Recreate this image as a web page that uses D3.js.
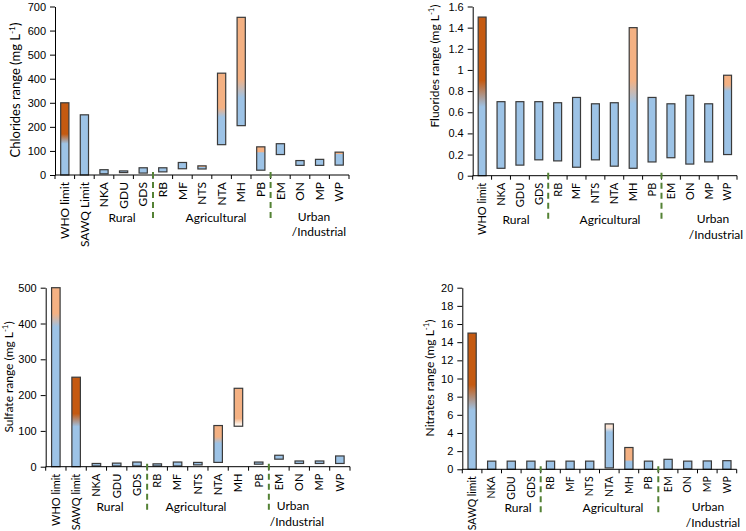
<!DOCTYPE html>
<html>
<head>
<meta charset="utf-8">
<script src="https://cdn.jsdelivr.net/npm/d3@7"></script>
<style>
body { margin: 0; background: #fff; }
svg { display: block; font-family: Lato, "Noto Sans", sans-serif; }
</style>
</head>
<body>
<svg id="chart" width="746" height="531"></svg>
<script>
// sampling sites
var sites = ["NKA", "GDU", "GDS", "RB", "MF", "NTS", "NTA", "MH", "PB", "EM", "ON", "MP", "WP"];
var groupNames = ["Rural", "Agricultural", "Urban", "/Industrial"];

// chlorides (mg/L)
var chlorideCats = ["WHO limit", "SAWQ Limit"].concat(sites);
var chlorideLow  = [0, 0, 5, 10, 8, 13, 26, 25, 126, 205, 20, 85, 40, 40, 41];
var chlorideHigh = [300, 250, 22, 17, 30, 30, 52, 38, 423, 655, 117, 130, 60, 65, 95];
// colour change [from, to, top colour]
var chlorideBlend = [[130, 170, "d"], null, null, null, null, null, null, [32, 34, "l"],
  [240, 280, "l"], [320, 400, "l"], [92, 97, "l"], null, null, null, [85, 88, "l"]];
var chlorideTicks = [0, 100, 200, 300, 400, 500, 600, 700];

// fluorides
var fluorideCats = ["WHO limit"].concat(sites);
var fluorideLow  = [0, 0.07, 0.10, 0.15, 0.14, 0.08, 0.15, 0.09, 0.07, 0.13, 0.17, 0.11, 0.13, 0.20];
var fluorideHigh = [1.5, 0.70, 0.70, 0.70, 0.69, 0.74, 0.68, 0.69, 1.40, 0.74, 0.68, 0.76, 0.68, 0.95];
var fluorideBlend = [[0.65, 0.9, "d"], null, null, null, null, null, null, null,
  [0.68, 0.9, "l"], null, null, null, null, [0.8, 0.86, "l"]];
var fluorideTicks = [0, 0.2, 0.4, 0.6, 0.8, 1, 1.2, 1.4, 1.6];

// sulfate
var sulfateCats = ["WHO limit", "SAWQ limit"].concat(sites);
var sulfateLow  = [0, 0, 2, 2, 2, 2, 2, 5, 12, 113, 7, 21, 9, 9, 9];
var sulfateHigh = [500, 250, 9, 10, 13, 8, 13, 12, 115, 219, 13, 32, 16, 16, 30];
var sulfateBlend = [[390, 428, "l"], [112, 148, "d"], null, null, null, null, null, null,
  [65, 84, "l"], [118, 135, "l", "w"], null, null, null, null, null];
var sulfateTicks = [0, 100, 200, 300, 400, 500];

// nitrates
var nitrateCats = ["SAWQ limit"].concat(sites);
var nitrateLow  = [0, 0, 0, 0, 0, 0, 0, 0.15, 0, 0, 0, 0.05, 0, 0];
var nitrateHigh = [15, 0.9, 0.9, 0.9, 0.9, 0.9, 0.9, 5.0, 2.4, 0.9, 1.1, 0.9, 0.92, 0.95];
var nitrateBlend = [[6.5, 9.3, "d"], null, null, null, null, null, null,
  [4.1, 4.6, "p"], [0.85, 1.05, "l"], null, null, null, null, null];
var nitrateTicks = [0, 2, 4, 6, 8, 10, 12, 14, 16, 18, 20];

var colors = { b: "#9dc3e6", d: "#c55a11", l: "#f4b183", p: "#fbe5d6", w: "#fdf3ea" };

var panels = [
  { name: "Chlorides range", cats: chlorideCats, low: chlorideLow, high: chlorideHigh, blend: chlorideBlend,
    ticks: chlorideTicks, left: 55, right: 349, top: 6.5, bottom: 175, fs: 11.5, tfs: 13,
    titleX: 15, titleY: 90, groupPos: [[122, 218], [216, 218], [314, 217], [319, 232]] },
  { name: "Fluorides range", cats: fluorideCats, low: fluorideLow, high: fluorideHigh, blend: fluorideBlend,
    ticks: fluorideTicks, left: 472.7, right: 737, top: 6.5, bottom: 175.7, fs: 10.5, tfs: 12,
    titleX: 435, titleY: 66, groupPos: [[516, 220], [610, 220], [713, 219], [716, 235]] },
  { name: "Sulfate range", cats: sulfateCats, low: sulfateLow, high: sulfateHigh, blend: sulfateBlend,
    ticks: sulfateTicks, left: 45.7, right: 350, top: 287.7, bottom: 466.7, fs: 10.5, tfs: 12,
    titleX: 9, titleY: 377, groupPos: [[110, 507], [196, 507], [293, 506], [297, 522]] },
  { name: "Nitrates range", cats: nitrateCats, low: nitrateLow, high: nitrateHigh, blend: nitrateBlend,
    ticks: nitrateTicks, left: 462.3, right: 736.7, top: 287.7, bottom: 469.3, fs: 10, tfs: 12,
    titleX: 430, titleY: 378, groupPos: [[518, 508], [613, 508], [708, 507], [713, 523]] }
];

var svg = d3.select("#chart");
var defs = svg.append("defs");
var fmt = function(d) { return String(+d.toFixed(1)); };

panels.forEach(function(p, pi) {
  var g = svg.append("g");
  var n = p.cats.length;
  var x = d3.scaleBand().domain(p.cats).range([p.left, p.right]).paddingInner(0.58).paddingOuter(0.29);
  var y = d3.scaleLinear().domain([0, d3.max(p.ticks)]).range([p.bottom, p.top]);

  // bars
  var rows = p.cats.map(function(c, i) { return { c: c, lo: p.low[i], hi: p.high[i], b: p.blend[i], i: i }; });
  rows.forEach(function(r) {
    if (!r.b) return;
    var h = y(r.lo) - y(r.hi);
    var grad = defs.append("linearGradient").attr("id", "g" + pi + "_" + r.i)
      .attr("x1", 0).attr("y1", 0).attr("x2", 0).attr("y2", 1);
    var topC = colors[r.b[2]], botC = colors[r.b[3] || "b"];
    var o1 = Math.max(0, Math.min(1, (y(r.b[1]) - y(r.hi)) / h));
    var o2 = Math.max(0, Math.min(1, (y(r.b[0]) - y(r.hi)) / h));
    [[0, topC], [o1, topC], [o2, botC], [1, botC]].forEach(function(s) {
      grad.append("stop").attr("offset", s[0]).attr("stop-color", s[1]);
    });
  });

  g.selectAll("rect.bar").data(rows).enter().append("rect")
    .attr("class", "bar")
    .attr("x", function(d) { return x(d.c); })
    .attr("width", x.bandwidth())
    .attr("y", function(d) { return y(d.hi); })
    .attr("height", function(d) { return Math.max(1, y(d.lo) - y(d.hi)); })
    .attr("fill", function(d) { return d.b ? "url(#g" + pi + "_" + d.i + ")" : colors.b; })
    .attr("stroke", "#3a3a3a")
    .attr("stroke-width", 1.2);

  // y axis
  var ya = g.append("g").attr("transform", "translate(" + p.left + ",0)")
    .call(d3.axisLeft(y).tickValues(p.ticks).tickFormat(fmt).tickSize(5).tickSizeOuter(0).tickPadding(4));
  ya.selectAll("text").style("font-size", "11px").attr("fill", "#000");
  ya.selectAll("line, path").attr("stroke", "#000");

  // x axis with ticks between categories
  g.append("line").attr("x1", p.left).attr("x2", p.right).attr("y1", p.bottom).attr("y2", p.bottom)
    .attr("stroke", "#000");
  g.selectAll("line.xt").data(d3.range(n + 1)).enter().append("line")
    .attr("class", "xt")
    .attr("x1", function(i) { return p.left + i * x.step(); })
    .attr("x2", function(i) { return p.left + i * x.step(); })
    .attr("y1", p.bottom).attr("y2", p.bottom + 4)
    .attr("stroke", "#000");

  g.selectAll("text.cat").data(p.cats).enter().append("text")
    .attr("class", "cat")
    .attr("transform", function(c) {
      return "translate(" + (x(c) + x.bandwidth() / 2) + "," + (p.bottom + 7) + ") rotate(-90)";
    })
    .attr("text-anchor", "end").attr("dy", "0.35em")
    .style("font-size", p.fs + 0.5 + "px")
    .text(function(c) { return c; });

  // group separators
  ["RB", "EM"].forEach(function(c) {
    var sx = x(c) - (x.step() - x.bandwidth()) / 2;
    g.append("line").attr("x1", sx).attr("x2", sx)
      .attr("y1", p.bottom - 3).attr("y2", p.bottom + 46)
      .attr("stroke", "#548235").attr("stroke-width", 2).attr("stroke-dasharray", "6,4");
  });

  // group labels
  groupNames.forEach(function(t, k) {
    g.append("text").attr("x", p.groupPos[k][0]).attr("y", p.groupPos[k][1]).attr("dy", "0.35em")
      .attr("text-anchor", "middle").style("font-size", "12px").text(t);
  });

  // y title
  var tt = g.append("text").attr("transform", "translate(" + p.titleX + "," + p.titleY + ") rotate(-90)")
    .attr("text-anchor", "middle").attr("dy", "0.35em").style("font-size", p.tfs + "px");
  tt.append("tspan").text(p.name + " (mg L");
  tt.append("tspan").attr("baseline-shift", "super").style("font-size", (p.tfs * 0.65) + "px").text("-1");
  tt.append("tspan").text(")");
});
</script>
</body>
</html>
